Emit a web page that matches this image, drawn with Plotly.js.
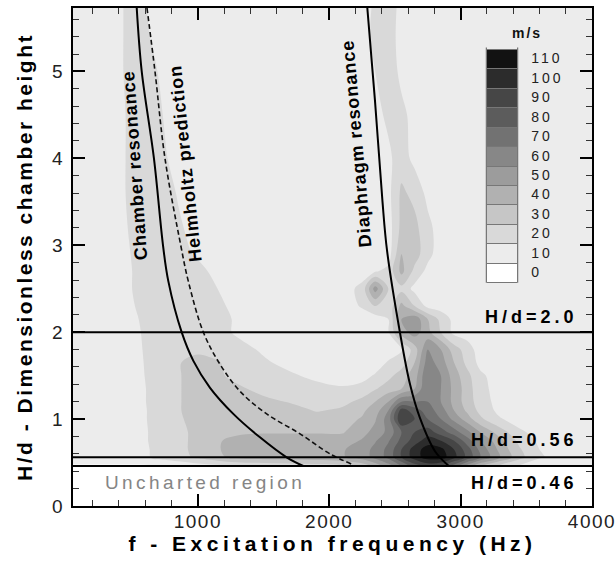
<!DOCTYPE html>
<html><head><meta charset="utf-8">
<script src="https://cdn.plot.ly/plotly-3.0.1.min.js"></script>
<style>
body{margin:0;background:#fff}
.xtick text, .ytick text{letter-spacing:1.5px}
.xtitle{letter-spacing:4.5px}
.ytitle{letter-spacing:2.5px}
.colorbar text{letter-spacing:3px}
text[data-unformatted$="resonance"], text[data-unformatted$="prediction"]{letter-spacing:1px}
text[data-unformatted^="H/d="]{letter-spacing:4px}
text[data-unformatted="Uncharted region"]{letter-spacing:3.4px}
text[data-unformatted="m/s"]{letter-spacing:2px}
</style>
</head><body>
<div id="chart" style="width:616px;height:567px"></div>
<script>
// Excitation frequency grid (Hz)
const freqHz = [50,350,450,550,650,750,850,1000,1150,1300,1500,1700,1900,2100,2250,2350,2450,2550,2650,2750,2850,2950,3050,3150,3300,3450,3600,3800,4000];
// Dimensionless chamber height grid (H/d)
const heightHd = [0.46,0.56,0.65,0.75,0.85,1.0,1.1,1.2,1.35,1.5,1.65,1.8,2.0,2.15,2.3,2.5,2.7,2.9,3.2,3.6,4.0,4.5,5.0,5.4,5.73];
// Jet velocity (m/s), one row per H/d value
const v046 = [4,4,4,4,4,5,8,10,12,15,17,18,20,22,28,38,50,65,80,88,85,70,50,35,22,14,8,5,5];
const v056 = [10,10,10,10,16,19,21,27,33,38,40,41,42,44,50,58,68,85,100,110,110,98,82,65,45,28,16,11,10];
const v065 = [10,10,10,10,16,20,22,28,34,40,41,42,42,44,50,58,68,85,100,110,108,95,80,62,42,26,15,10,10];
const v075 = [10,10,10,10,17,20,22,28,34,38,40,40,40,40,46,54,64,78,90,100,95,85,70,55,38,22,13,10,10];
const v085 = [10,10,10,10,17,20,22,28,32,33,34,34,34,34,42,48,58,75,85,90,80,70,58,45,30,17,11,10,10];
const v100 = [10,10,10,10,18,20,23,30,32,31,32,32,31,31,36,44,60,95,85,75,65,52,40,27,16,10,10,10,10];
const v110 = [10,10,10,10,18,20,24,30,30,30,31,31,24,27,33,40,55,90,80,70,60,45,33,22,12,10,10,10,10];
const v120 = [10,10,10,10,19,20,24,30,30,30,29,24,23,22,28,35,45,65,65,65,55,42,30,20,11,10,10,10,10];
const v135 = [10,10,10,10,19,20,24,30,30,28,20,21,19,16,18,24,30,35,45,65,55,42,30,18,11,10,10,10,10];
const v150 = [10,10,10,11,20,20,24,30,28,20,19,17,12,11,12,16,22,30,40,65,55,40,28,17,10,10,10,10,10];
const v165 = [10,10,10,12,20,20,24,30,26,20,17,11,10,10,10,10,16,20,35,60,50,35,22,12,10,10,10,10,10];
const v180 = [10,10,10,13,20,20,20,22,20,20,13,10,10,10,10,10,10,14,30,55,45,30,20,10,10,10,10,10,10];
const v200 = [10,10,10,14,20,20,20,20,20,13,10,10,10,10,10,10,14,40,50,38,25,12,10,10,10,10,10,10,10];
const v215 = [10,10,10,15,20,20,20,20,20,13,10,10,10,10,10,10,15,45,52,35,22,12,10,10,10,10,10,10,10];
const v230 = [10,10,10,17,20,20,20,20,18,11,10,10,10,10,16,25,18,38,25,12,10,10,10,10,10,10,10,10,10];
const v250 = [10,10,10,20,20,20,20,20,15,10,10,10,10,10,18,50,25,22,12,10,10,10,10,10,10,10,10,10,10];
const v270 = [10,10,10,20,20,20,20,19,11,10,10,10,10,10,10,14,18,38,22,12,10,10,10,10,10,10,10,10,10];
const v290 = [10,10,12,20,20,20,20,13,10,10,10,10,10,10,10,10,10,35,30,18,10,10,10,10,10,10,10,10,10];
const v320 = [10,10,14,20,20,20,17,10,10,10,10,10,10,10,10,10,10,28,28,18,10,10,10,10,10,10,10,10,10];
const v360 = [10,10,15,20,20,20,14,10,10,10,10,10,10,10,10,10,12,27,22,12,10,10,10,10,10,10,10,10,10];
const v400 = [10,10,15,20,20,16,11,10,10,10,10,10,10,10,10,10,13,20,12,10,10,10,10,10,10,10,10,10,10];
const v450 = [10,10,15,20,20,14,10,10,10,10,10,10,10,10,10,12,17,18,11,10,10,10,10,10,10,10,10,10,10];
const v500 = [10,10,16,20,18,11,10,10,10,10,10,10,10,10,10,15,22,12,10,10,10,10,10,10,10,10,10,10,10];
const v540 = [10,10,16,20,14,10,10,10,10,10,10,10,10,10,10,18,20,11,10,10,10,10,10,10,10,10,10,10,10];
const v573 = [10,10,16,20,12,10,10,10,10,10,10,10,10,10,10,17,20,12,10,10,10,10,10,10,10,10,10,10,10];

// Resonance curves
const chamberH = [5.73,5.0,4.0,3.0,2.59,2.0,1.67,1.36,1.06,0.79,0.56,0.46];
const chamberF = [535,573,666,735,775,877,966,1093,1270,1473,1676,1803];
const helmholtzH = [5.73,5.0,4.0,3.0,2.59,2.0,1.63,1.32,1.06,0.83,0.6,0.48];
const helmholtzF = [613,674,750,870,927,1042,1169,1321,1524,1778,2006,2173];
const diaphragmH = [5.73,4.67,3.51,2.94,2.0,1.4,1.01,0.63,0.46];
const diaphragmF = [2290,2348,2405,2440,2538,2615,2691,2805,2910];

// Reference chamber heights
const hdLines = [2.0,0.56,0.46];
const hdLabels = ['H/d=2.0','H/d=0.56','H/d=0.46'];

// Legend levels (m/s) and grey shades
const levelLabels = [0,10,20,30,40,50,60,70,80,90,100,110];
const greys = ['#ffffff','#ececec','#d9d9d9','#c6c6c6','#b1b1b1','#9c9c9c','#878787','#727272','#5c5c5c','#464646','#2c2c2c','#121212'];

const velocity = [v046,v056,v065,v075,v085,v100,v110,v120,v135,v150,v165,v180,v200,v215,v230,v250,v270,v290,v320,v360,v400,v450,v500,v540,v573];

// colour map over [-10,120]: one stop per level, hidden half-bands at both ends
const bgGrey = greys[1];
const colorscale = [[0,bgGrey]];
levelLabels.forEach((v,i)=>colorscale.push([(v+10)/130, greys[i]]));
colorscale.push([1,bgGrey]);
const contourSpec = {start:-5,end:115,size:10,coloring:'fill'};

const cbX = 0.7977, cbThick = 30, cbLen = 0.509, cbY = 0.430;
const plotW = 616-73-24;

const traces = [
 {type:'contour', x:freqHz, y:heightHd, z:velocity, colorscale:colorscale, autocontour:false,
  contours:Object.assign({showlines:false},contourSpec), line:{width:0,smoothing:1},
  showscale:false, hoverinfo:'skip'},
 {type:'contour', x:[0,1], y:[0,1], z:[[0,110],[0,110]], xaxis:'x2', yaxis:'y2',
  colorscale:colorscale, autocontour:false, contours:Object.assign({showlines:true},contourSpec),
  line:{width:1,color:'#777'}, hoverinfo:'skip', showscale:true,
  colorbar:{x:cbX,xanchor:'left',xpad:0,y:cbY,yanchor:'bottom',ypad:0,len:cbLen,lenmode:'fraction',
    thickness:cbThick,thicknessmode:'pixels',outlinewidth:0,bgcolor:'rgba(0,0,0,0)',borderwidth:0,
    tickmode:'array',tickvals:levelLabels,ticktext:levelLabels.map(String),ticks:'outside',ticklen:12,
    tickcolor:'rgba(0,0,0,0)',tickfont:{family:'Liberation Sans, Arial',size:14,color:'#222'},title:{text:''}}},
 {type:'scatter', mode:'lines', x:chamberF, y:chamberH, line:{color:'#000',width:2,shape:'spline',smoothing:1}, hoverinfo:'skip', showlegend:false},
 {type:'scatter', mode:'lines', x:helmholtzF, y:helmholtzH, line:{color:'#111',width:1.6,dash:'5px,3px',shape:'spline',smoothing:1}, hoverinfo:'skip', showlegend:false},
 {type:'scatter', mode:'lines', x:diaphragmF, y:diaphragmH, line:{color:'#000',width:2,shape:'spline',smoothing:1}, hoverinfo:'skip', showlegend:false}
];

const shapes = hdLines.map(h=>({type:'line',xref:'paper',x0:0,x1:1,yref:'y',y0:h,y1:h,line:{color:'#000',width:2}}));
shapes.push({type:'rect',xref:'paper',yref:'paper',x0:cbX-0.5/plotW,x1:cbX+(cbThick+0.5)/plotW,
  y0:cbY+cbLen*5/130,y1:cbY+cbLen*125/130,line:{color:'#777',width:1.5},fillcolor:'rgba(0,0,0,0)'});

const bold18 = {family:'Liberation Sans, Arial',size:18,color:'#000',weight:'bold'};
const annotations = [
 {x:522,y:3.92,text:'Chamber resonance',textangle:-94,showarrow:false,font:bold18},
 {x:902,y:3.94,text:'Helmholtz prediction',textangle:-96,showarrow:false,font:bold18},
 {x:2204,y:4.17,text:'Diaphragm resonance',textangle:-95,showarrow:false,font:bold18},
 {x:3908,y:2.17,text:hdLabels[0],xanchor:'right',showarrow:false,font:bold18},
 {x:3908,y:0.76,text:hdLabels[1],xanchor:'right',showarrow:false,font:bold18},
 {x:3908,y:0.265,text:hdLabels[2],xanchor:'right',showarrow:false,font:bold18},
 {x:278,y:0.265,text:'Uncharted region',xanchor:'left',showarrow:false,font:{family:'Liberation Sans, Arial',size:19,color:'#858585'}},
 {xref:'paper',yref:'paper',x:0.875,y:0.95,xanchor:'center',yanchor:'middle',text:'m/s',showarrow:false,font:{family:'Liberation Sans, Arial',size:14,color:'#111',weight:'bold'}}
];

const axisCommon = {showline:true,linewidth:2,linecolor:'#000',mirror:'allticks',ticks:'inside',ticklen:12,tickwidth:2,tickcolor:'#000',
  showgrid:false,zeroline:false,automargin:false,ticklabeloverflow:'allow',tickfont:{family:'Liberation Sans, Arial',size:19,color:'#222'}};

const layout = {
 width:616,height:567,margin:{l:73,r:24,t:8,b:61},paper_bgcolor:'#fff',plot_bgcolor:'#fff',showlegend:false,
 xaxis:Object.assign({},axisCommon,{range:[50,4000],tick0:0,dtick:1000,ticklabelstandoff:-3,
   minor:{dtick:200,ticks:'inside',ticklen:6,tickwidth:1,tickcolor:'#333'},
   title:{text:'f - Excitation frequency (Hz)',standoff:1,font:{family:'Liberation Sans, Arial',size:21,color:'#000',weight:'bold'}}}),
 yaxis:Object.assign({},axisCommon,{range:[0,5.73],tick0:0,dtick:1,ticklabelstandoff:3,
   minor:{dtick:0.2,ticks:'inside',ticklen:6,tickwidth:1,tickcolor:'#333'},
   title:{text:'H/d - Dimensionless chamber height',standoff:14,font:{family:'Liberation Sans, Arial',size:21,color:'#000',weight:'bold'}}}),
 xaxis2:{overlaying:'x',visible:false,range:[10,11]},
 yaxis2:{overlaying:'y',visible:false,range:[10,11]},
 shapes:shapes, annotations:annotations
};
Plotly.newPlot('chart',traces,layout,{displayModeBar:false,staticPlot:true});
</script>
</body></html>
